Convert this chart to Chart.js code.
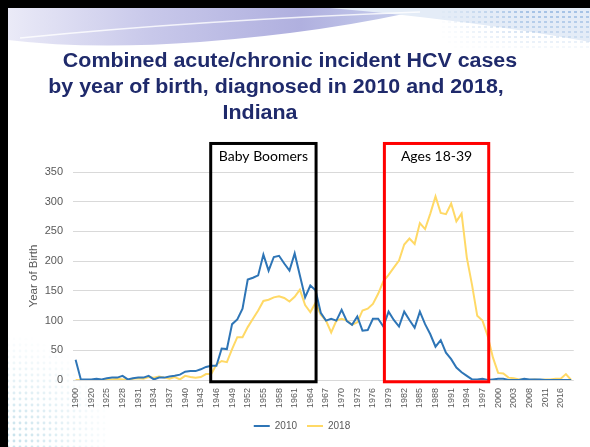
<!DOCTYPE html>
<html>
<head>
<meta charset="utf-8">
<script src="https://cdn.jsdelivr.net/npm/chart.js@4.4.0/dist/chart.umd.min.js"></script>
<style>
  html, body { margin: 0; padding: 0; background: #fff; }
  #wrap { width: 590px; height: 447px; }
</style>
</head>
<body>
<div id="wrap"><canvas id="myChart" width="590" height="447"></canvas></div>
<script>
// year of birth categories (the source sheet skips some years)
var years = [1900, 1910, 1915, 1920, 1921, 1923,
  1925, 1926, 1927, 1928, 1929, 1930, 1931, 1932, 1933, 1934,
  1935, 1936, 1937, 1938, 1939, 1940, 1941, 1942, 1943, 1944,
  1945, 1946, 1947, 1948, 1949, 1950, 1951, 1952, 1953, 1954,
  1955, 1956, 1957, 1958, 1959, 1960, 1961, 1962, 1963, 1964,
  1965, 1966, 1967, 1968, 1969, 1970, 1971, 1972, 1973, 1974,
  1975, 1976, 1977, 1978, 1979, 1980, 1981, 1982, 1983, 1984,
  1985, 1986, 1987, 1988, 1989, 1990, 1991, 1992, 1993, 1994,
  1995, 1996, 1997, 1998, 1999, 2000, 2001, 2002, 2003,
  2004, 2006, 2008, 2009, 2010, 2011, 2013, 2014, 2016, 2017, 2018];

var cases2010 = [34, 1, 1, 1, 2, 1, 3, 4, 4, 7,
  1, 3, 4, 4, 7, 1, 4, 4, 6, 7,
  9, 14, 15, 15, 18, 22, 24, 24, 53, 52,
  94, 102, 120, 169, 172, 176, 211, 184, 207, 209,
  196, 184, 213, 176, 139, 159, 151, 113, 100, 103,
  100, 118, 99, 93, 107, 83, 84, 103, 103, 90,
  115, 101, 90, 115, 101, 88, 115, 94, 77, 56,
  67, 46, 35, 21, 13, 7, 1, 1, 2, 0,
  1, 2, 2, 0, 0, 0, 2, 1, 1, 1,
  0, 0, 0, 0, 0, 0];

var cases2018 = [0, 0, 0, 0, 1, 0, 1, 1, 2, 1,
  0, 2, 3, 2, 5, 4, 6, 4, 2, 5,
  1, 7, 5, 4, 5, 10, 10, 26, 32, 30,
  52, 72, 72, 89, 103, 117, 133, 135, 139, 141,
  138, 132, 140, 152, 126, 114, 130, 110, 100, 80,
  100, 103, 100, 93, 97, 117, 120, 128, 145, 166,
  177, 189, 201, 228, 238, 229, 264, 254, 280, 309,
  281, 279, 297, 267, 280, 206, 160, 108, 100, 74,
  38, 12, 11, 4, 3, 1, 1, 0, 1, 0,
  1, 1, 2, 2, 10, 0];

var titleLines = ['Combined acute/chronic incident HCV cases',
  'by year of birth, diagnosed in 2010 and 2018,',
  'Indiana'];

// highlighted groups, as birth-year spans
var groupNames = ['Baby Boomers', 'Ages 18-39'];
var groupFrom = [1944.9, 1978.2];
var groupTo = [1965.1, 1998.2];

function yearPos(y) {
  var base = Math.floor(y);
  return years.indexOf(base) + (y - base);
}

var slidePlugin = {
  id: 'slide',
  beforeDraw: function(chart) {
    var c = chart.ctx;
    c.save();
    c.fillStyle = '#ffffff';
    c.fillRect(0, 0, 590, 447);

    // dotted corner, bottom left
    for (var x = 2; x < 110; x += 6) {
      for (var y = 447; y > 330; y -= 6) {
        var d = Math.sqrt(x * x + (447 - y) * (447 - y));
        var a = Math.max(0, 1 - d / 115) * 0.55;
        if (a <= 0) continue;
        c.fillStyle = 'rgba(140,195,215,' + a + ')';
        c.beginPath();
        c.arc(x, y, 1.4, 0, Math.PI * 2);
        c.fill();
      }
    }

    // top swoosh
    var g = c.createLinearGradient(0, 0, 430, 0);
    g.addColorStop(0, '#ececf8');
    g.addColorStop(0.35, '#c8c8ea');
    g.addColorStop(0.7, '#b0b0df');
    g.addColorStop(1, '#cdd6f0');
    c.fillStyle = g;
    c.beginPath();
    c.moveTo(8, 8);
    c.lineTo(430, 8);
    c.quadraticCurveTo(330, 32, 200, 42);
    c.quadraticCurveTo(90, 50, 8, 40);
    c.closePath();
    c.fill();

    c.fillStyle = '#e4ecf7';
    c.beginPath();
    c.moveTo(330, 8);
    c.lineTo(590, 8);
    c.lineTo(590, 42);
    c.quadraticCurveTo(470, 20, 330, 8);
    c.closePath();
    c.fill();

    for (var sx = 436; sx < 590; sx += 6) {
      for (var sy = 11; sy < 48; sy += 5) {
        var fade = Math.min(1, (sx - 436) / 90) * Math.max(0, 1 - (sy - 11) / 40);
        if (fade <= 0.02) continue;
        c.fillStyle = 'rgba(150,185,225,' + (fade * 0.8) + ')';
        c.fillRect(sx, sy, 3, 2);
      }
    }

    c.strokeStyle = 'rgba(255,255,255,0.8)';
    c.lineWidth = 1.5;
    c.beginPath();
    c.moveTo(20, 38);
    c.quadraticCurveTo(200, 20, 420, 12);
    c.stroke();

    // black frame at top and left
    c.fillStyle = '#000000';
    c.fillRect(0, 0, 590, 8);
    c.fillRect(0, 0, 8, 447);

    // title
    c.fillStyle = '#1f2a6b';
    c.font = 'bold 20px "Liberation Sans", Arial, sans-serif';
    c.textAlign = 'center';
    c.textBaseline = 'alphabetic';
    var centers = [290, 276, 260];
    var bases = [67, 93, 119];
    for (var i = 0; i < titleLines.length; i++) {
      c.save();
      c.translate(centers[i], bases[i]);
      c.scale(1.07, 1);
      c.fillText(titleLines[i], 0, 0);
      c.restore();
    }
    c.restore();
  },
  afterDatasetsDraw: function(chart) {
    var c = chart.ctx;
    var xs = chart.scales.x;
    var ys = chart.scales.y;
    var colors = ['#000000', '#ff0000'];
    c.save();
    for (var i = 0; i < groupNames.length; i++) {
      var left = xs.getPixelForValue(yearPos(groupFrom[i]));
      var right = xs.getPixelForValue(yearPos(groupTo[i]));
      var top = ys.getPixelForValue(398);
      var bottom = ys.getPixelForValue(-3);
      c.strokeStyle = colors[i];
      c.lineWidth = 3;
      c.strokeRect(left, top, right - left, bottom - top);
      c.fillStyle = '#000000';
      c.font = '14px Lato, "Open Sans", sans-serif';
      c.textAlign = 'center';
      c.textBaseline = 'alphabetic';
      c.fillText(groupNames[i], (left + right) / 2, top + 18);
    }
    c.restore();
  }
};

var ctx = document.getElementById('myChart');

var myChart = new Chart(ctx, {
  type: 'line',
  data: {
    labels: years,
    datasets: [{
      label: '2010',
      data: cases2010,
      borderColor: '#2e75b6',
      backgroundColor: '#2e75b6',
      borderWidth: 2,
      pointRadius: 0,
      tension: 0
    }, {
      label: '2018',
      data: cases2018,
      borderColor: '#ffd966',
      backgroundColor: '#ffd966',
      borderWidth: 2,
      pointRadius: 0,
      tension: 0
    }]
  },
  options: {
    responsive: false,
    animation: false,
    layout: { padding: { left: 27, right: 13, top: 172, bottom: 6 } },
    plugins: {
      legend: {
        position: 'bottom',
        labels: {
          usePointStyle: true,
          pointStyle: 'line',
          pointStyleWidth: 16,
          color: '#595959',
          font: { size: 10, family: '"Liberation Sans", Arial, sans-serif' },
          padding: 10
        }
      },
      tooltip: { enabled: false }
    },
    scales: {
      x: {
        offset: true,
        grid: { display: false, drawTicks: false },
        border: { display: false },
        ticks: {
          autoSkip: false,
          maxRotation: 90,
          minRotation: 90,
          padding: 8,
          color: '#595959',
          font: { size: 9, family: '"Liberation Sans", Arial, sans-serif' },
          callback: function(value, index) {
            return index % 3 === 0 ? this.getLabelForValue(value) : '';
          }
        },
        afterFit: function(scale) { scale.height = 31; }
      },
      y: {
        min: 0,
        max: 350,
        ticks: {
          stepSize: 50,
          padding: 10,
          color: '#595959',
          font: { size: 11, family: '"Liberation Sans", Arial, sans-serif' }
        },
        grid: { color: '#d9d9d9', drawTicks: false },
        border: { display: false },
        title: {
          display: true,
          text: 'Year of Birth',
          color: '#595959',
          padding: 0,
          font: { size: 11.5, family: '"Liberation Sans", Arial, sans-serif' }
        },
        afterFit: function(scale) { scale.width = 46; }
      }
    }
  },
  plugins: [slidePlugin]
});
</script>
</body>
</html>
